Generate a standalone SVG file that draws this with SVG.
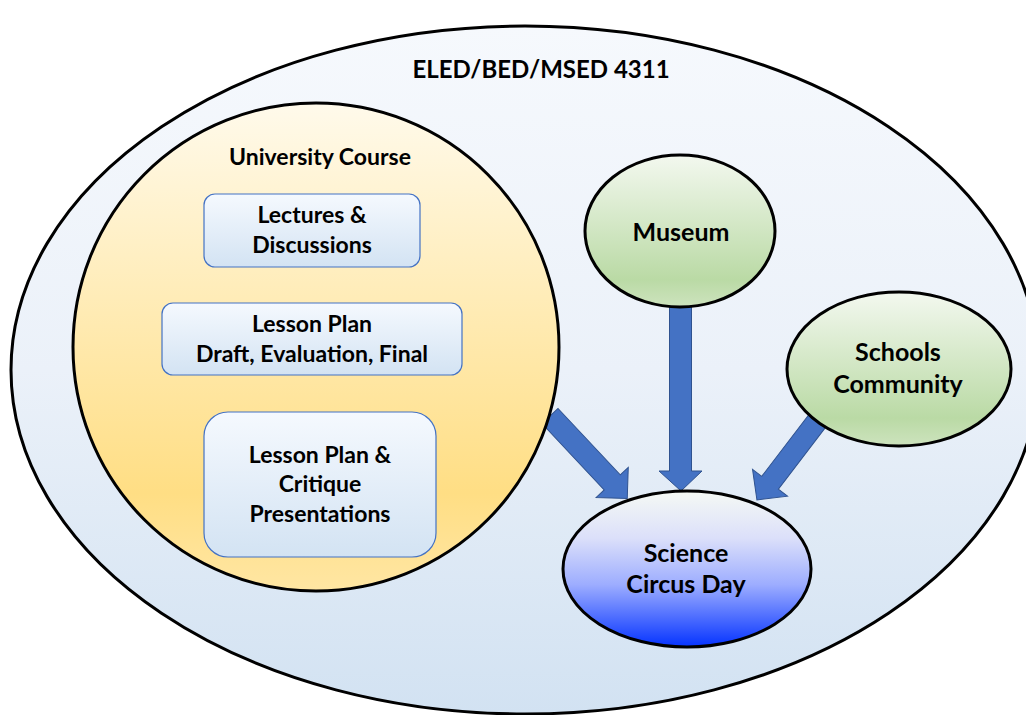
<svg xmlns="http://www.w3.org/2000/svg" width="1026" height="715" viewBox="0 0 1026 715">
<defs>
<linearGradient id="gOuter" x1="0" y1="0" x2="0" y2="1">
<stop offset="0" stop-color="#F6F9FD"/><stop offset="0.5" stop-color="#EBF1F9"/><stop offset="1" stop-color="#D2E2F2"/>
</linearGradient>
<linearGradient id="gYellow" x1="0" y1="0" x2="0" y2="1">
<stop offset="0" stop-color="#FFFAEB"/><stop offset="0.8" stop-color="#FFDE84"/><stop offset="1" stop-color="#FFE6A3"/>
</linearGradient>
<linearGradient id="gGreen" x1="0" y1="0" x2="0" y2="1">
<stop offset="0" stop-color="#F3F8EF"/><stop offset="0.82" stop-color="#BADAA5"/><stop offset="1" stop-color="#CDE3BE"/>
</linearGradient>
<linearGradient id="gBlue" x1="0" y1="0" x2="0" y2="1">
<stop offset="0" stop-color="#F5F9F4"/><stop offset="0.3" stop-color="#DCE0FA"/><stop offset="0.6" stop-color="#9DADFF"/><stop offset="1" stop-color="#0533FF"/>
</linearGradient>
<linearGradient id="gBox" x1="0" y1="0" x2="0" y2="1">
<stop offset="0" stop-color="#F5F9FE"/><stop offset="1" stop-color="#D3E3F3"/>
</linearGradient>
<marker id="ah" viewBox="0 0 10 10" refX="10" refY="5" markerWidth="4" markerHeight="4" orient="auto" markerUnits="strokeWidth">
<path d="M0,0 L10,5 L0,10 z" fill="#000"/>
</marker>
<style>
.title{font-family:Lato,"Liberation Sans",sans-serif;font-weight:bold;fill:#000;text-anchor:middle;font-size:24px}
.big{font-family:Lato,"Liberation Sans",sans-serif;font-weight:bold;fill:#000;text-anchor:middle;font-size:25px}
.mid{font-family:Lato,"Liberation Sans",sans-serif;font-weight:bold;fill:#000;text-anchor:middle;font-size:23px}
.ell{stroke:#000;stroke-width:3}
.box{fill:url(#gBox);stroke:#4472C4;stroke-width:1.2}
.fat{fill:#4472C4;stroke:#2F528F;stroke-width:1}
.thin{stroke:#000;stroke-width:2;fill:none}
</style>
</defs>
<g id="outer">
<ellipse class="ell" cx="525" cy="370" rx="514" ry="344" fill="url(#gOuter)"/>
<text class="title" x="541" y="78">ELED/BED/MSED 4311</text>
</g>
<g id="connectors">
<polygon class="fat" transform="translate(550,416) rotate(46.87)" points="0,-11 91,-11 91,-22 113,0 91,22 91,11 0,11"/>
<polygon class="fat" points="669.5,295 691.5,295 691.5,471 702,471 681,491 659,471 669.5,471"/>
<polygon class="fat" transform="translate(821,416) rotate(127.35)" points="0,-10.5 84,-10.5 84,-22 105.6,0 84,22 84,10.5 0,10.5"/>
<line class="thin" x1="313" y1="267" x2="313" y2="298" marker-end="url(#ah)"/>
<line class="thin" x1="313" y1="375" x2="313" y2="411" marker-end="url(#ah)"/>
</g>
<g id="university">
<ellipse class="ell" cx="316" cy="347" rx="243" ry="244" fill="url(#gYellow)"/>
<text class="mid" x="320" y="165">University Course</text>
</g>
<g id="lectures">
<rect class="box" x="204" y="194" width="216" height="73" rx="11"/>
<text class="mid" x="312" y="223">Lectures &amp;</text>
<text class="mid" x="312" y="253">Discussions</text>
</g>
<g id="lessonplan">
<rect class="box" x="162" y="303" width="300" height="72" rx="11"/>
<text class="mid" x="312" y="332">Lesson Plan</text>
<text class="mid" x="312" y="362">Draft, Evaluation, Final</text>
</g>
<g id="presentations">
<rect class="box" x="204" y="412" width="232" height="145" rx="24"/>
<text class="mid" x="320" y="463">Lesson Plan &amp;</text>
<text class="mid" x="320" y="492">Critique</text>
<text class="mid" x="320" y="522">Presentations</text>
</g>
<g id="museum">
<ellipse class="ell" cx="680" cy="231" rx="95" ry="76" fill="url(#gGreen)"/>
<text class="big" x="681" y="241">Museum</text>
</g>
<g id="schools">
<ellipse class="ell" cx="899" cy="369" rx="112" ry="77" fill="url(#gGreen)"/>
<text class="big" x="898" y="361">Schools</text>
<text class="big" x="898" y="393">Community</text>
</g>
<g id="science">
<ellipse class="ell" cx="687" cy="569" rx="124" ry="78" fill="url(#gBlue)"/>
<text class="big" x="686" y="562">Science</text>
<text class="big" x="686" y="593">Circus Day</text>
</g>
</svg>
